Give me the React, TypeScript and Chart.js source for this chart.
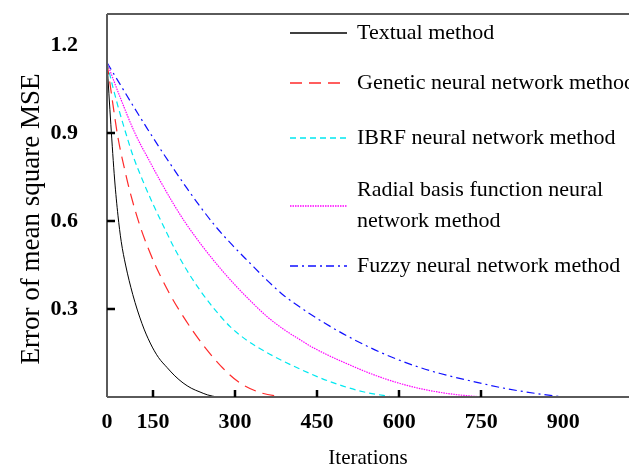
import React, { useEffect, useRef } from "react";
import { Chart, registerables } from "chart.js";

Chart.register(...registerables);

const FONT = "'Liberation Serif', 'Times New Roman', serif";

// ---- Data (iterations, MSE) ----
const SERIES_LABELS = [
  "Textual method",
  "Genetic neural network method",
  "IBRF neural network method",
  "Radial basis function neural network method",
  "Fuzzy neural network method",
];

const textualIter = [66, 73, 80, 86, 92, 100, 113, 130, 145, 160, 176, 190, 205, 220, 236, 250, 267];
const textualMse = [1.14, 0.93, 0.74, 0.62, 0.53, 0.45, 0.35, 0.25, 0.184, 0.135, 0.1, 0.072, 0.048, 0.03, 0.017, 0.007, 0];

const geneticIter = [66, 71, 77, 86, 99, 108, 126, 145, 163, 181, 199, 223, 249, 278, 309, 346, 382, 395];
const geneticMse = [1.14, 1.075, 0.995, 0.885, 0.77, 0.7, 0.585, 0.49, 0.415, 0.35, 0.293, 0.225, 0.16, 0.098, 0.048, 0.015, 0.002, 0];

const ibrfIter = [66, 77, 90, 102, 113, 132, 150, 172, 187, 212, 236, 260, 291, 322, 358, 382, 419, 474, 534, 589];
const ibrfMse = [1.14, 1.055, 0.965, 0.89, 0.825, 0.735, 0.658, 0.572, 0.515, 0.432, 0.364, 0.305, 0.24, 0.193, 0.152, 0.128, 0.095, 0.052, 0.018, 0];

const radialIter = [66, 90, 117, 145, 163, 187, 209, 236, 267, 296, 327, 358, 388, 419, 443, 505, 565, 626, 688, 750];
const radialMse = [1.14, 1.022, 0.9, 0.8, 0.738, 0.66, 0.595, 0.525, 0.452, 0.39, 0.33, 0.275, 0.232, 0.195, 0.168, 0.113, 0.068, 0.034, 0.012, 0];

const fuzzyIter = [66, 90, 113, 139, 163, 187, 212, 236, 263, 296, 327, 358, 388, 419, 443, 505, 565, 626, 675, 735, 797, 858, 900];
const fuzzyMse = [1.14, 1.066, 0.995, 0.917, 0.847, 0.78, 0.712, 0.65, 0.585, 0.516, 0.457, 0.399, 0.348, 0.306, 0.276, 0.208, 0.153, 0.108, 0.08, 0.053, 0.028, 0.01, 0];

const X_MIN = 66;
const X_MAX = 1020;
const Y_MAX = 1.306;
const X_TICKS = [150, 300, 450, 600, 750, 900];
const Y_TICKS = [0.3, 0.6, 0.9, 1.2];
const X_TICK_MARKS = [150, 300, 450, 600, 750];
const Y_TICK_MARKS = [0.3, 0.6, 0.9];

const LEGEND_LINES = [
  ["Textual method"],
  ["Genetic neural network method"],
  ["IBRF neural network method"],
  ["Radial basis function neural", "network method"],
  ["Fuzzy neural network method"],
];

const framePlugin = {
  id: "frame",
  afterDatasetsDraw(chart: any) {
    const { ctx, chartArea } = chart;
    const { left, right, top, bottom } = chartArea;
    const xs = chart.scales.x;
    const ys = chart.scales.y;
    ctx.save();
    ctx.setLineDash([]);
    ctx.lineWidth = 2;
    ctx.strokeStyle = "#5a5a5a";
    ctx.beginPath();
    ctx.moveTo(left, top);
    ctx.lineTo(right, top);
    ctx.moveTo(left, top);
    ctx.lineTo(left, bottom);
    ctx.moveTo(left, bottom);
    ctx.lineTo(right, bottom);
    ctx.stroke();
    ctx.strokeStyle = "#000";
    ctx.lineWidth = 2.5;
    ctx.beginPath();
    X_TICK_MARKS.forEach((v) => {
      const px = Math.round(xs.getPixelForValue(v));
      ctx.moveTo(px, bottom);
      ctx.lineTo(px, bottom - 7);
    });
    Y_TICK_MARKS.forEach((v) => {
      const py = Math.round(ys.getPixelForValue(v));
      ctx.moveTo(left, py);
      ctx.lineTo(left + 8, py);
    });
    ctx.stroke();
    ctx.fillStyle = "#000";
    ctx.font = `27px ${FONT}`;
    ctx.textAlign = "center";
    ctx.textBaseline = "middle";
    ctx.translate(32, 219);
    ctx.rotate(-Math.PI / 2);
    ctx.fillText("Error of mean square MSE", 0, 0);
    ctx.restore();
  },
};

const legendPlugin = {
  id: "customLegend",
  afterDraw(chart: any) {
    const { ctx } = chart;
    const rowY = [33, 83, 138, 206, 266];
    const lineGap = 31;
    ctx.save();
    chart.data.datasets.forEach((ds: any, i: number) => {
      const y = rowY[i];
      ctx.strokeStyle = ds.borderColor;
      ctx.lineWidth = 1.5;
      ctx.setLineDash(ds.borderDash || []);
      ctx.beginPath();
      ctx.moveTo(290, y);
      ctx.lineTo(347, y);
      ctx.stroke();
      ctx.setLineDash([]);
      ctx.fillStyle = "#000";
      ctx.font = `22px ${FONT}`;
      ctx.textAlign = "left";
      ctx.textBaseline = "middle";
      const lines = LEGEND_LINES[i];
      const startY = y - ((lines.length - 1) * lineGap) / 2;
      lines.forEach((t, k) => ctx.fillText(t, 357, startY + k * lineGap));
    });
    ctx.restore();
  },
};

export default function App() {
  const ref = useRef<HTMLCanvasElement>(null);

  useEffect(() => {
    const canvas = ref.current;
    if (!canvas) return;
    const series = [
      { xs: textualIter, ys: textualMse, color: "#000000", dash: [] as number[], width: 1 },
      { xs: geneticIter, ys: geneticMse, color: "#ff2a2a", dash: [12, 7], width: 1.2 },
      { xs: ibrfIter, ys: ibrfMse, color: "#00e8f0", dash: [6, 4], width: 1.2 },
      { xs: radialIter, ys: radialMse, color: "#ff00ff", dash: [1.5, 1], width: 1.2 },
      { xs: fuzzyIter, ys: fuzzyMse, color: "#1010ff", dash: [8, 4, 2, 4], width: 1.2 },
    ];
    const chart = new Chart(canvas, {
      type: "line",
      data: {
        datasets: series.map((s, i) => ({
          label: SERIES_LABELS[i],
          data: s.xs.map((x, k) => ({ x, y: s.ys[k] })),
          borderColor: s.color,
          backgroundColor: s.color,
          borderDash: s.dash,
          borderWidth: s.width,
          pointRadius: 0,
          fill: false,
          cubicInterpolationMode: "monotone",
        })),
      },
      options: {
        responsive: false,
        animation: false,
        devicePixelRatio: 1,
        layout: { padding: { top: 14, left: 0, right: 0, bottom: 0 } },
        plugins: { legend: { display: false }, tooltip: { enabled: false } },
        scales: {
          x: {
            type: "linear",
            min: X_MIN,
            max: X_MAX,
            afterFit: (s: any) => {
              s.height = 74;
              s.paddingLeft = 0;
              s.paddingRight = 0;
              s.paddingTop = 0;
              s.paddingBottom = 0;
            },
            afterBuildTicks: (s: any) => {
              s.ticks = [X_MIN, ...X_TICKS].map((v) => ({ value: v }));
            },
            grid: { display: false, drawTicks: false },
            border: { display: false },
            ticks: {
              autoSkip: false,
              maxRotation: 0,
              padding: 12,
              color: "#000",
              font: { family: FONT, size: 22, weight: "bold" },
              callback: (v: any) => (v === X_MIN ? "0" : String(v)),
            },
            title: {
              display: true,
              text: "Iterations",
              color: "#000",
              font: { family: FONT, size: 21 },
              padding: { top: 0, bottom: 0 },
            },
          },
          y: {
            type: "linear",
            min: 0,
            max: Y_MAX,
            afterFit: (s: any) => {
              s.width = 107;
              s.paddingLeft = 0;
              s.paddingRight = 0;
              s.paddingTop = 0;
              s.paddingBottom = 0;
            },
            afterBuildTicks: (s: any) => {
              s.ticks = Y_TICKS.map((v) => ({ value: v }));
            },
            grid: { display: false, drawTicks: false },
            border: { display: false },
            ticks: {
              padding: 29,
              color: "#000",
              font: { family: FONT, size: 22, weight: "bold" },
              callback: (v: any) => Number(v).toFixed(1),
            },
          },
        },
      } as any,
      plugins: [framePlugin, legendPlugin],
    });
    return () => chart.destroy();
  }, []);

  return (
    <div
      style={{
        position: "fixed",
        left: 0,
        top: 0,
        width: 629,
        height: 471,
        background: "#fff",
      }}
    >
      <canvas ref={ref} width={629} height={471} style={{ display: "block" }} />
    </div>
  );
}
